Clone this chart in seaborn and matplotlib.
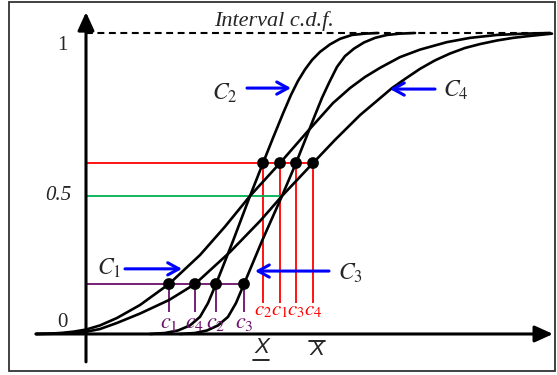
import numpy as np
import pandas as pd
import matplotlib
matplotlib.use("Agg")
import matplotlib.pyplot as plt
import seaborn as sns
from matplotlib.patches import Rectangle

# ---- four c.d.f. curves: x values and F(x) ----
c1_x = [-1.00, -0.72, -0.48, -0.24, 0.00, 0.28, 0.62, 1.08, 1.66, 2.28, 2.78, 3.28, 3.88,
        4.42, 4.94, 5.28, 5.58, 5.88, 6.28, 6.68, 7.22, 7.68, 8.22, 8.78, 9.28]
c1_p = [0.0, 0.0014, 0.004, 0.0087, 0.016, 0.031, 0.058, 0.105, 0.181, 0.286, 0.389, 0.5, 0.601,
        0.696, 0.785, 0.831, 0.865, 0.893, 0.926, 0.949, 0.972, 0.985, 0.994, 0.998, 1.0]

c2_x = [1.28, 1.58, 1.84, 2.08, 2.28, 2.44, 2.60, 2.94, 3.28, 3.54, 3.74, 3.94, 4.10, 4.24,
        4.38, 4.52, 4.68, 4.88, 5.08, 5.32, 5.58, 5.84]
c2_p = [0.0, 0.0036, 0.0127, 0.031, 0.062, 0.112, 0.181, 0.337, 0.5, 0.601, 0.678, 0.753, 0.810,
        0.853, 0.888, 0.917, 0.942, 0.965, 0.982, 0.994, 0.998, 1.0]

c3_x = [1.88, 2.18, 2.42, 2.64, 2.84, 3.00, 3.16, 3.52, 3.92, 4.20, 4.40, 4.58, 4.72, 4.86,
        5.02, 5.18, 5.36, 5.56, 5.78, 6.02, 6.28, 6.58]
c3_p = [0.0, 0.0036, 0.0127, 0.031, 0.062, 0.112, 0.181, 0.337, 0.5, 0.601, 0.678, 0.748, 0.801,
        0.847, 0.896, 0.929, 0.952, 0.971, 0.985, 0.994, 0.998, 1.0]

c4_x = [-1.00, -0.72, -0.48, -0.24, 0.00, 0.28, 0.62, 1.08, 1.66, 2.18, 2.88, 3.48, 3.92, 4.54,
        4.98, 5.48, 6.12, 6.38, 6.68, 6.98, 7.28, 7.58, 7.88, 8.22, 8.54, 8.88, 9.32]
c4_p = [0.0, 0.0007, 0.0022, 0.0043, 0.008, 0.018, 0.040, 0.074, 0.123, 0.181, 0.297, 0.409, 0.5,
        0.601, 0.672, 0.748, 0.831, 0.859, 0.890, 0.916, 0.937, 0.954, 0.966, 0.977, 0.985, 0.991, 0.998]

# probability levels and the quantiles read at each
lower_level = 0.181
mid_level = 0.5
upper_level = 0.601
lower_names = ["c_1", "c_4", "c_2", "c_3"]
lower_q = [1.66, 2.18, 2.60, 3.16]
upper_names = ["c_2", "c_1", "c_3", "c_4"]
upper_q = [3.54, 3.88, 4.20, 4.54]
mid_end = 3.92

tick_labels = ["0", "0.5", "1"]
curve_names = ["C_1", "C_2", "C_3", "C_4"]

RED = "#ff0000"
PURPLE = "#6b0f6b"
GREEN = "#00b050"
BLUE = "#0000ff"

# the lower half of the probability axis is drawn a bit shorter than the upper half
LOW_SPAN = 0.4585
HIGH_SPAN = 0.5415


def fwd(p):
    p = np.asarray(p, float)
    return np.where(p <= 0.5, 2 * p * LOW_SPAN, LOW_SPAN + 2 * (p - 0.5) * HIGH_SPAN)


def inv(d):
    d = np.asarray(d, float)
    return np.where(d <= LOW_SPAN, d / (2 * LOW_SPAN), 0.5 + (d - LOW_SPAN) / (2 * HIGH_SPAN))


sns.set_style("white")
plt.rcParams["font.family"] = ["Liberation Serif", "DejaVu Serif"]
plt.rcParams["mathtext.fontset"] = "stix"

fig = plt.figure(figsize=(5.57, 3.75), dpi=100)
ax = fig.add_axes([0, 0, 1, 1])
ax.set_yscale("function", functions=(fwd, inv))
ax.set_xlim(-1.72, 9.42)
ax.set_ylim(-0.1486, 1.1012)
ax.axis("off")

# outer frame
fig.patches.append(Rectangle((9 / 557, 4 / 375), 546 / 557, 369 / 375, transform=fig.transFigure,
                             fill=False, lw=1.3, edgecolor="#333333"))

# axes with arrow heads
arrow_kw = dict(arrowstyle="-|>,head_length=0.55,head_width=0.25", lw=2.2, color="black",
                shrinkA=0, shrinkB=0, mutation_scale=20)
ax.annotate("", xy=(0, 1.064), xytext=(0, -0.101), arrowprops=arrow_kw, zorder=3)
ax.annotate("", xy=(9.34, 0), xytext=(-1.0, 0), arrowprops=arrow_kw, zorder=3)

# upper bound of the c.d.f.
ax.hlines(1.0, 0, 9.32, colors="black", lw=1.5, linestyles=(0, (3.3, 2.2)), zorder=2)

# level lines and quantile drops
ax.hlines(upper_level, 0, max(upper_q), colors=RED, lw=1.3, zorder=2)
ax.vlines(upper_q, 0.112, upper_level, colors=RED, lw=1.3, zorder=2)
ax.hlines(mid_level, 0, mid_end, colors=GREEN, lw=1.3, zorder=2)
ax.hlines(lower_level, 0, max(lower_q), colors=PURPLE, lw=1.3, zorder=2)
ax.vlines(lower_q, 0.08, lower_level, colors=PURPLE, lw=1.3, zorder=2)

# curves
frames = []
for name, xs, ps in zip(curve_names, [c1_x, c2_x, c3_x, c4_x], [c1_p, c2_p, c3_p, c4_p]):
    frames.append(pd.DataFrame({"x": xs, "F": ps, "curve": name}))
df = pd.concat(frames, ignore_index=True)
sns.lineplot(data=df, x="x", y="F", units="curve", estimator=None, sort=False, color="black",
             lw=1.9, ax=ax, zorder=4, solid_joinstyle="round")

# intersection dots
sns.scatterplot(x=lower_q + upper_q, y=[lower_level] * 4 + [upper_level] * 4, s=72,
                color="black", edgecolor="none", ax=ax, zorder=6, legend=False)

# quantile labels
for nm, x in zip(upper_names, upper_q):
    ax.text(x, 0.069, f"${nm}$", color=RED, fontsize=15, ha="center", va="baseline", zorder=7)
for nm, x in zip(lower_names, lower_q):
    ax.text(x, 0.022, f"${nm}$", color=PURPLE, fontsize=16, ha="center", va="baseline", zorder=7)

# probability labels
ax.text(-0.48, 0.040, tick_labels[0], fontsize=15, ha="center", va="center")
ax.text(-0.56, mid_level, tick_labels[1], fontsize=15, style="italic", ha="center", va="center")
ax.text(-0.48, 0.963, tick_labels[2], fontsize=15, ha="center", va="center")

ax.text(3.76, 1.021, "Interval c.d.f.", fontsize=16, style="italic", ha="center", va="baseline")

# curve names with pointers
blue_kw = dict(arrowstyle="->,head_length=0.4,head_width=0.22", lw=2.2, color=BLUE,
               shrinkA=0, shrinkB=0, mutation_scale=20)
pointers = [
    ("C_1", (0.46, 0.214), (0.78, 0.236), (1.92, 0.236)),
    ("C_2", (2.78, 0.794), (3.22, 0.831), (4.10, 0.831)),
    ("C_3", (5.28, 0.196), (4.86, 0.228), (3.38, 0.228)),
    ("C_4", (7.40, 0.804), (6.98, 0.828), (6.08, 0.828)),
]
for nm, txt_xy, start, end in pointers:
    ax.text(*txt_xy, f"${nm}$", fontsize=17, ha="center", va="baseline")
    ax.annotate("", xy=end, xytext=start, arrowprops=blue_kw, zorder=5)

# lower and upper bounds of the interval on the x axis
ax.text(3.52, -0.0507, "X", family="Liberation Sans", style="italic", fontsize=16,
        ha="center", va="center")
ax.plot([3.34, 3.66], [-0.0942, -0.0942], color="black", lw=1.2, clip_on=False)
ax.text(4.62, -0.0562, "X", family="Liberation Sans", style="italic", fontsize=16,
        ha="center", va="center")
ax.plot([4.46, 4.78], [-0.0254, -0.0254], color="black", lw=1.2, clip_on=False)

fig.savefig("out.png", dpi=100)
